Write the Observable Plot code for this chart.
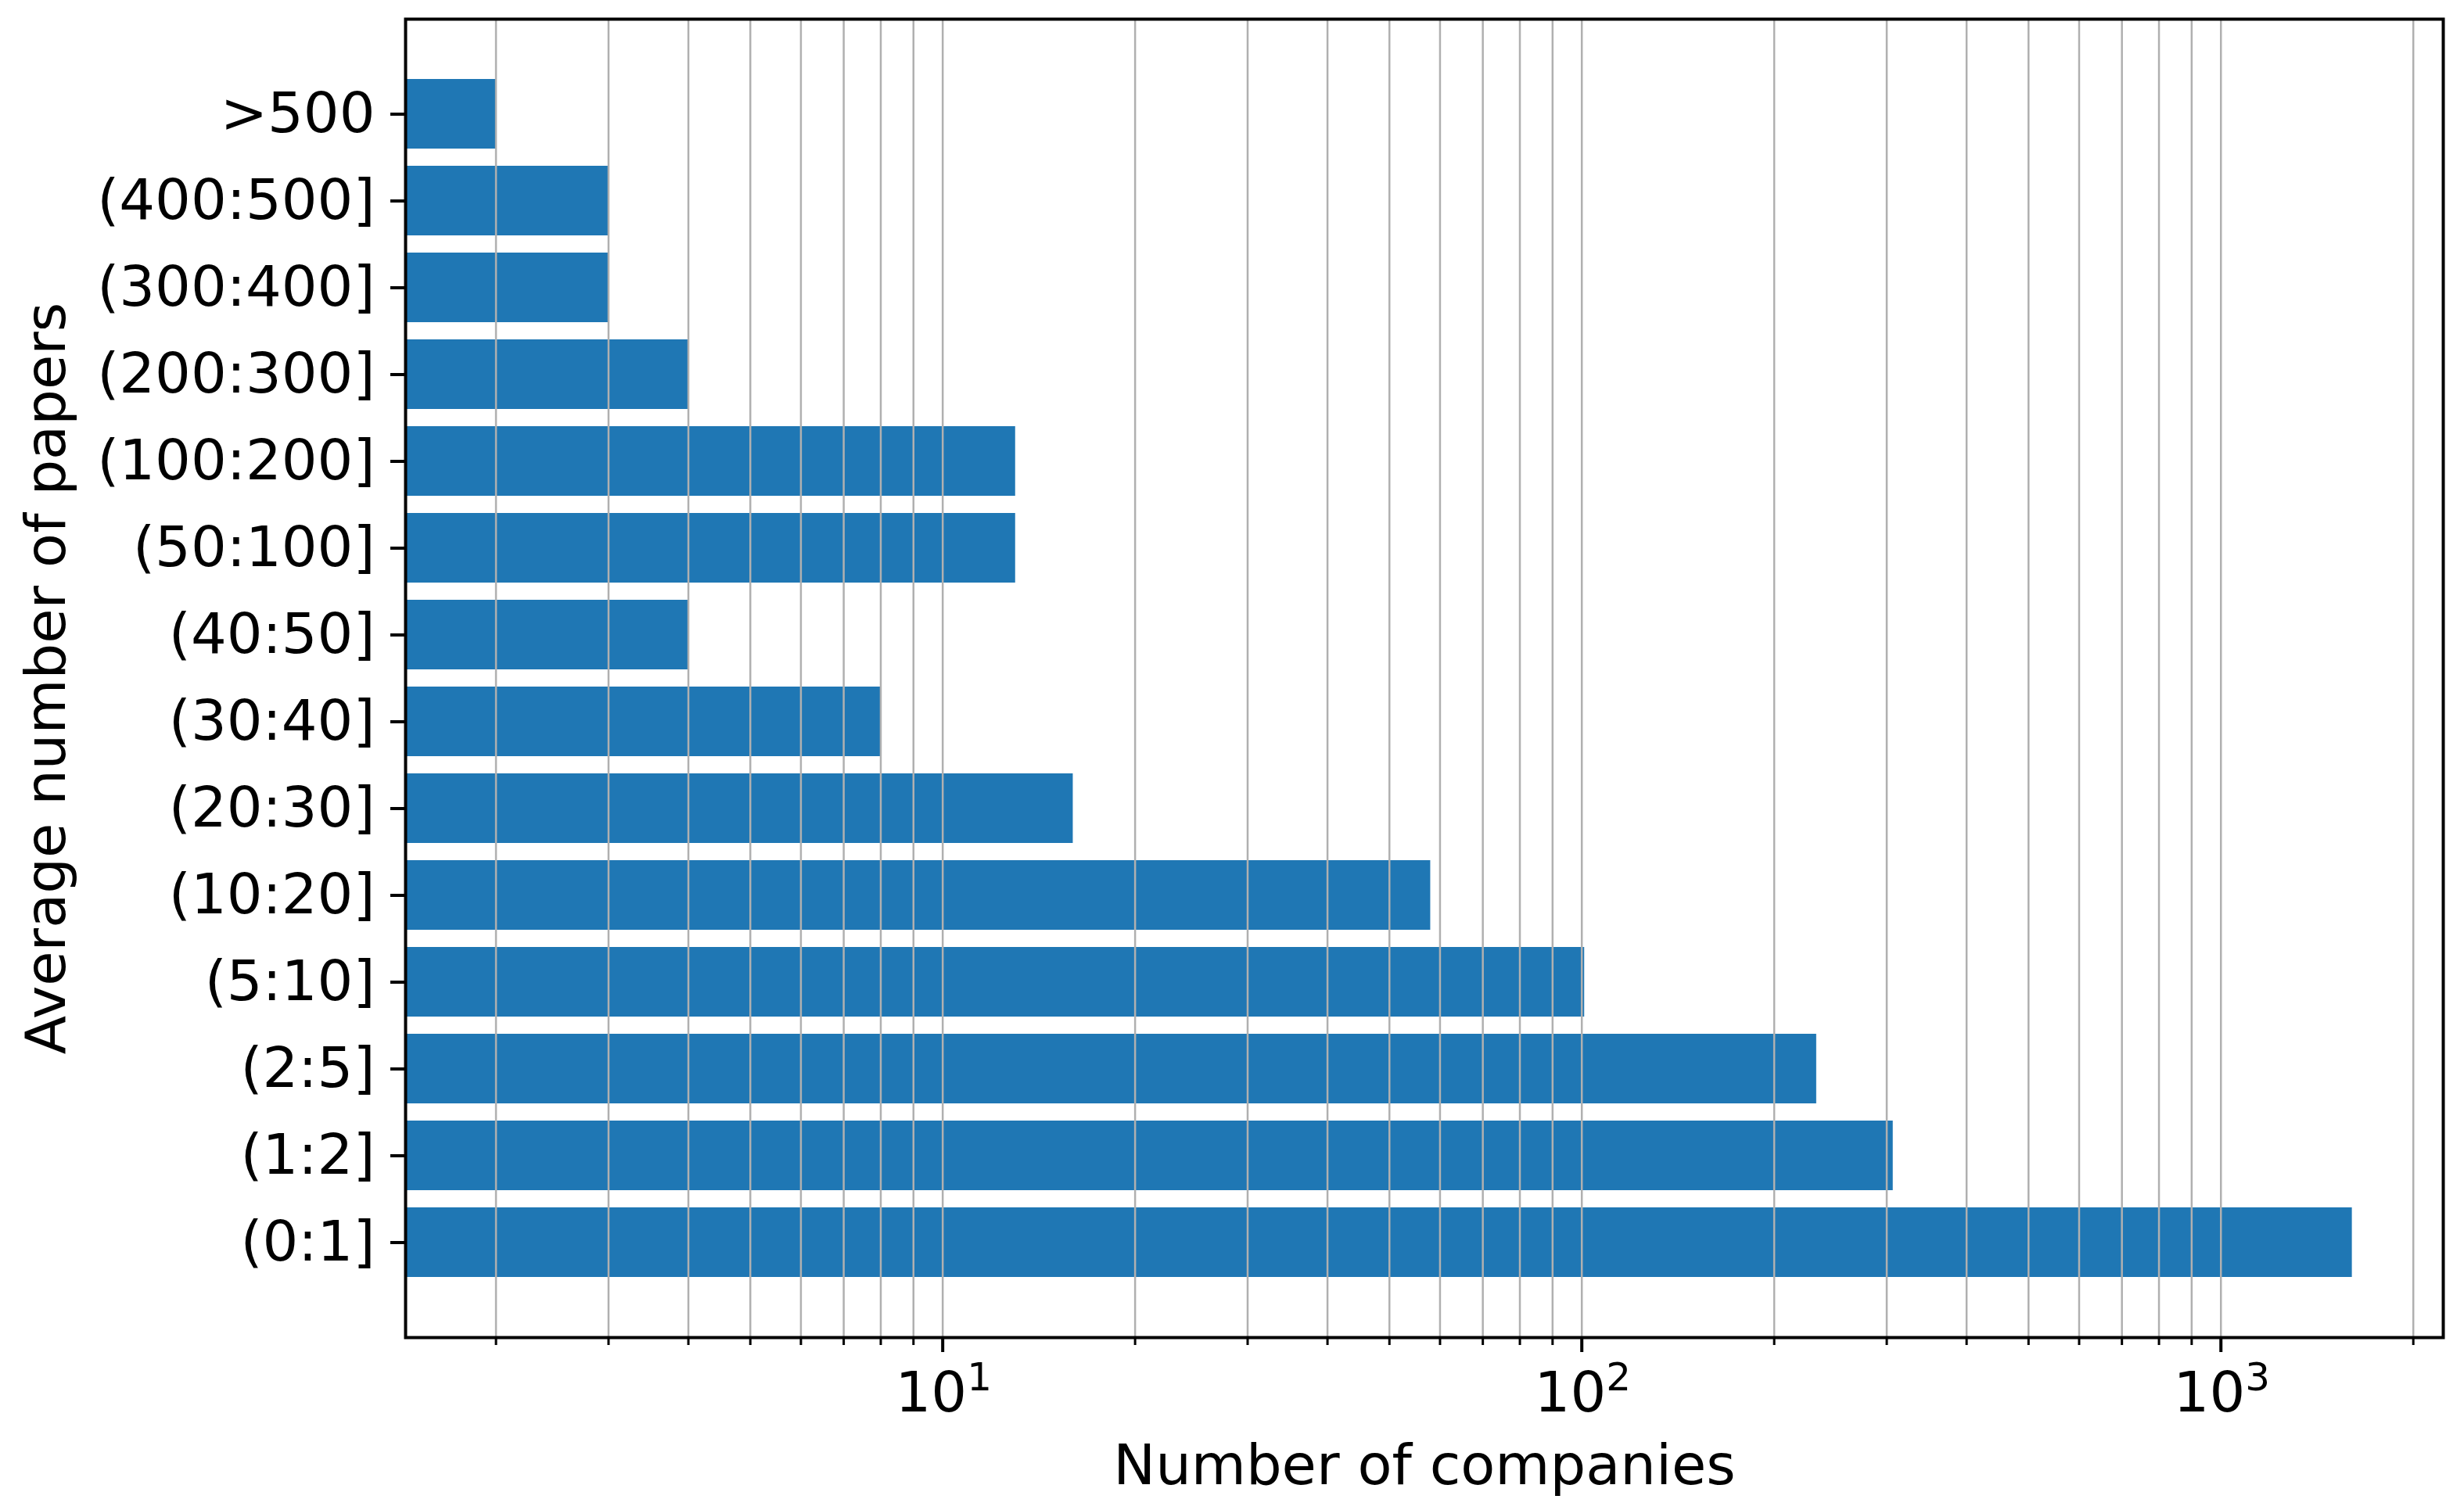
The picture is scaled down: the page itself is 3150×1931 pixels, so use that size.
<!DOCTYPE html>
<html>
<head>
<meta charset="utf-8">
<script src="https://cdn.jsdelivr.net/npm/d3@7"></script>
<script src="https://cdn.jsdelivr.net/npm/@observablehq/plot@0.6"></script>
<style>
  html, body { margin: 0; padding: 0; background: white; }
</style>
</head>
<body>
<div id="chart"></div>
<script>
const categories = [">500", "(400:500]", "(300:400]", "(200:300]", "(100:200]", "(50:100]", "(40:50]", "(30:40]", "(20:30]", "(10:20]", "(5:10]", "(2:5]", "(1:2]", "(0:1]"];
const counts = [2, 3, 3, 4, 13, 13, 4, 8, 16, 58, 101, 233, 307, 1605];

const majorTicks = [10, 100, 1000];
const majorExponents = ["1", "2", "3"];
const minorTicks = [2, 3, 4, 5, 6, 7, 8, 9, 20, 30, 40, 50, 60, 70, 80, 90, 200, 300, 400, 500, 600, 700, 800, 900, 2000];

const xDomain = [1.444, 2228];
const xLabel = "Number of companies";
const yLabel = "Average number of papers";

const data = categories.map((c, i) => ({category: c, count: counts[i]}));
const majors = majorTicks.map((v, i) => ({value: v, exp: majorExponents[i]}));
const allTicks = [...minorTicks, ...majorTicks];

const chart = Plot.plot({
  width: 3150,
  height: 1931,
  marginLeft: 518,
  marginRight: 27,
  marginTop: 24,
  marginBottom: 221,
  style: {fontFamily: "DejaVu Sans", fontSize: "72px", background: "white", color: "black"},
  x: {type: "log", domain: xDomain, axis: null},
  y: {type: "band", domain: categories, paddingInner: 0.2, paddingOuter: 0.69, axis: null},
  marks: [
    Plot.barX(data, {x1: () => xDomain[0], x2: "count", y: "category", fill: "#1f77b4"}),
    Plot.gridX(allTicks, {stroke: "#b0b0b0", strokeOpacity: 1, strokeWidth: 2.5}),
    Plot.axisX(majorTicks, {tickSize: 19, tickFormat: () => "", strokeWidth: 4, stroke: "black", label: null}),
    Plot.axisX(minorTicks, {tickSize: 10, tickFormat: () => "", strokeWidth: 3, stroke: "black", label: null}),
    Plot.axisY({tickSize: 19, tickPadding: 20, strokeWidth: 4, fontSize: 72, fill: "black", stroke: "black", label: null}),
    Plot.text(majors, {x: "value", text: () => "10", frameAnchor: "bottom", lineAnchor: "bottom", textAnchor: "end", dx: 31, dy: 94, fontSize: 72, fill: "black"}),
    Plot.text(majors, {x: "value", text: "exp", frameAnchor: "bottom", lineAnchor: "bottom", textAnchor: "start", dx: 31, dy: 67, fontSize: 50, fill: "black"}),
    Plot.text([xLabel], {text: d => d, frameAnchor: "bottom", lineAnchor: "bottom", textAnchor: "middle", dy: 187, fontSize: 72, fill: "black"}),
    Plot.text([yLabel], {text: d => d, frameAnchor: "left", lineAnchor: "bottom", textAnchor: "middle", rotate: -90, dx: -436, fontSize: 72, fill: "black"}),
    Plot.frame({stroke: "black", strokeWidth: 4})
  ]
});
document.getElementById("chart").appendChild(chart);
</script>
</body>
</html>
